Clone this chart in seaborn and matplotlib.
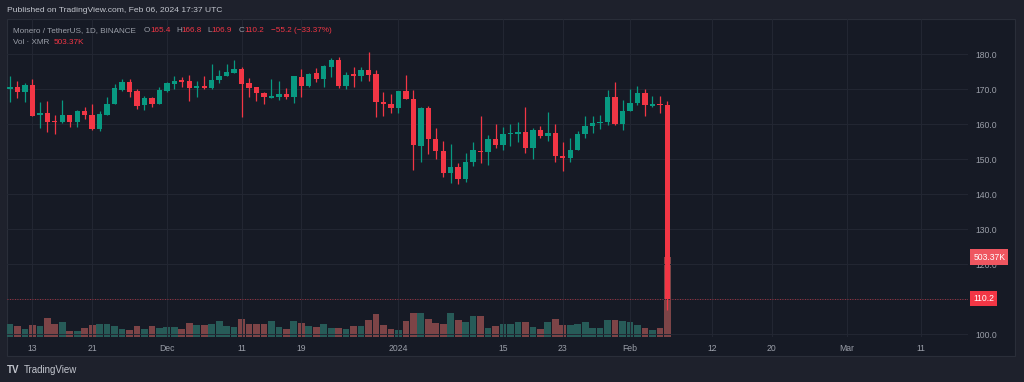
import matplotlib
matplotlib.use("Agg")
import matplotlib.pyplot as plt
import matplotlib.dates as mdates
import matplotlib.transforms as mtransforms
from matplotlib.patches import Rectangle
import seaborn as sns
import pandas as pd
import numpy as np

# daily XMR/USDT candles, 2023-11-10 .. 2024-02-06
dates = pd.date_range("2023-11-10", "2024-02-06", freq="D")
opens = [170.0, 170.7, 169.2, 171.1, 162.6, 163.2, 161.0, 160.7, 162.8, 160.6,
         163.9, 162.8, 158.7, 162.8, 165.8, 169.9, 172.0, 169.4, 165.4, 167.5,
         165.8, 169.6, 171.4, 172.7, 172.4, 170.3, 170.9, 170.5, 172.6, 173.8,
         174.7, 175.8, 171.8, 170.8, 169.0, 167.6, 167.9, 168.6, 167.9, 173.6,
         171.0, 174.7, 173.0, 176.5, 178.4, 171.0, 174.3, 173.9, 175.4, 174.3,
         166.4, 165.9, 164.8, 169.4, 167.3, 153.9, 164.7, 155.7, 152.5, 146.0,
         147.7, 144.3, 149.2, 152.5, 152.0, 155.8, 154.2, 157.1, 157.2, 157.7,
         153.2, 158.3, 156.6, 157.6, 150.8, 150.5, 152.7, 157.3, 159.5, 160.3,
         160.6, 167.9, 160.2, 163.7, 166.2, 169.0, 165.3, 165.6, 165.4]
highs = [173.7, 172.5, 171.7, 172.9, 166.5, 166.6, 162.8, 167.0, 162.8, 164.2,
         165.0, 165.8, 163.9, 167.8, 171.5, 172.9, 172.9, 170.1, 168.1, 167.7,
         170.6, 172.0, 173.9, 173.4, 174.2, 172.5, 173.9, 177.1, 175.6, 177.2,
         178.5, 176.5, 173.2, 170.8, 169.3, 172.9, 172.5, 170.5, 173.7, 175.9,
         174.7, 176.2, 177.0, 178.9, 179.1, 175.0, 176.5, 176.4, 180.7, 175.6,
         169.1, 168.6, 169.4, 174.2, 169.9, 164.9, 165.1, 158.8, 155.2, 154.3,
         148.8, 151.9, 154.8, 162.3, 156.9, 160.0, 159.1, 160.2, 160.8, 164.9,
         159.0, 159.4, 163.4, 160.1, 155.0, 156.1, 158.2, 162.5, 162.5, 162.7,
         169.9, 172.2, 167.0, 170.0, 171.0, 170.0, 168.0, 168.2, 166.8]
lows = [166.5, 167.6, 166.5, 162.3, 159.0, 157.8, 157.1, 160.5, 159.1, 159.3,
        161.6, 158.4, 158.1, 162.8, 165.8, 169.4, 167.7, 164.4, 164.0, 164.9,
        165.8, 169.2, 170.1, 170.6, 166.6, 167.7, 170.0, 170.0, 171.7, 173.7,
        174.7, 162.1, 167.7, 166.6, 165.9, 167.5, 167.0, 167.1, 166.0, 167.7,
        170.6, 172.2, 170.7, 173.6, 170.3, 170.1, 170.8, 172.3, 172.3, 162.1,
        162.3, 163.1, 163.1, 167.2, 147.0, 149.2, 151.5, 150.0, 144.9, 143.3,
        142.9, 143.6, 148.2, 149.0, 148.3, 153.1, 152.7, 153.7, 154.9, 151.9,
        150.2, 156.1, 155.2, 149.3, 146.6, 149.2, 152.7, 156.0, 157.6, 158.7,
        159.8, 159.8, 158.5, 163.7, 165.4, 162.4, 165.0, 163.3, 106.9]
closes = [170.7, 169.2, 171.1, 162.4, 163.2, 160.8, 160.6, 162.8, 160.6, 163.9,
          162.8, 158.7, 163.0, 165.7, 170.3, 172.0, 169.2, 165.3, 167.6, 165.8,
          169.9, 171.7, 172.5, 172.2, 170.3, 170.9, 170.5, 172.8, 173.8, 175.0,
          175.8, 171.5, 170.5, 168.9, 167.7, 168.2, 168.8, 167.8, 173.7, 171.0,
          174.5, 173.0, 176.7, 178.4, 171.0, 174.2, 173.9, 175.4, 174.2, 166.3,
          165.7, 164.8, 169.4, 167.2, 154.1, 164.7, 155.7, 152.5, 146.0, 147.9,
          144.3, 149.2, 152.7, 152.0, 155.8, 154.1, 157.1, 157.5, 157.7, 153.2,
          158.3, 156.6, 157.6, 150.8, 150.5, 152.7, 157.3, 159.5, 160.5, 160.7,
          167.9, 160.2, 163.7, 166.2, 169.0, 165.4, 165.8, 165.4, 110.2]
volumes_k = [84, 69, 50, 77, 67, 120, 80, 92, 36, 40,
             58, 77, 84, 84, 69, 50, 44, 69, 50, 67,
             58, 63, 63, 48, 88, 77, 77, 84, 101, 71,
             65, 115, 84, 84, 80, 101, 63, 52, 101, 90,
             71, 63, 84, 55, 55, 52, 67, 71, 105, 143,
             74, 52, 42, 99, 153, 153, 111, 90, 82, 153,
             109, 92, 135, 130, 58, 67, 82, 82, 96, 96,
             63, 52, 96, 111, 74, 74, 82, 92, 58, 58,
             105, 105, 101, 96, 77, 57, 44, 58, 503.37]

tick_dates = ["2023-11-13", "2023-11-21", "2023-12-01", "2023-12-11", "2023-12-19",
              "2024-01-01", "2024-01-15", "2024-01-23", "2024-02-01", "2024-02-12",
              "2024-02-20", "2024-03-01", "2024-03-11"]
tick_labels = ["13", "21", "Dec", "11", "19", "2024", "15", "23", "Feb", "12",
               "20", "Mar", "11"]
price_ticks = [100, 110, 120, 130, 140, 150, 160, 170, 180]

UP = "#089981"
DOWN = "#f23645"
VOL_UP = "#1e645f"
VOL_DOWN = "#873a3e"
OUTER_BG = "#1e212c"
CHART_BG = "#161a25"
GRID = "#232733"
TEXT = "#c3c6ce"
AXIS_TEXT = "#9a9ea8"

sns.set_style("dark")
plt.rcParams["font.family"] = ["Liberation Sans", "DejaVu Sans"]

df = pd.DataFrame({"date": dates, "open": opens, "high": highs, "low": lows,
                   "close": closes, "volume": volumes_k})
df["x"] = mdates.date2num(df["date"])
df["dir"] = np.where(df["close"] >= df["open"], "up", "down")
colors = [UP if d == "up" else DOWN for d in df["dir"]]

W, H = 1024, 382
fig = plt.figure(figsize=(W / 100, H / 100), dpi=100, facecolor=OUTER_BG)

# chart panel behind the plot and axis strips
fig.patches.append(Rectangle((7 / W, 1 - 356 / H), 1008 / W, 337 / H,
                             transform=fig.transFigure, facecolor=CHART_BG,
                             edgecolor="#2a2e39", lw=0.8, zorder=-5))

ax = fig.add_axes([7 / W, 1 - 337 / H, 961 / W, 318 / H])
axv = ax.twinx()

# volume pane (overlay at the bottom)
sns.barplot(data=df, x="x", y="volume", hue="dir", palette={"up": VOL_UP, "down": VOL_DOWN},
            native_scale=True, dodge=False, errorbar=None, width=0.9, legend=False,
            linewidth=0, ax=axv)
axv.set_ylim(0, 503.37 * 318 / 80)
axv.set_yticks([])
axv.set_ylabel("")
axv.set_xlabel("")
for s in axv.spines.values():
    s.set_visible(False)

ax.set_zorder(axv.get_zorder() + 1)
ax.patch.set_visible(False)
axv.patch.set_visible(False)

# candles
ax.vlines(df["x"], df["low"], df["high"], color=colors, lw=0.9, zorder=3)
body_h = np.maximum((df["close"] - df["open"]).abs(), 0.3)
body_b = np.minimum(df["open"], df["close"])
ax.bar(df["x"], body_h, bottom=body_b, width=0.72, color=colors, linewidth=0, zorder=4)

x0 = df["x"].iloc[0]
ax.set_xlim(x0 - 0.4, x0 + 128.25)
ax.set_ylim(99.2, 190.1)

ax.set_xticks(mdates.date2num(pd.to_datetime(tick_dates)))
ax.set_xticklabels(tick_labels)
ax.set_yticks(price_ticks)
ax.set_yticklabels([f"{p:.1f}" for p in price_ticks])
ax.yaxis.tick_right()
ax.tick_params(axis="x", length=0, pad=5, labelsize=6.2, colors=AXIS_TEXT)
ax.tick_params(axis="y", length=0, pad=5, labelsize=6.2, colors=AXIS_TEXT)
ax.grid(True, color=GRID, lw=0.7)
ax.set_axisbelow(True)
for s in ax.spines.values():
    s.set_visible(False)

# last price line and labels
last = df["close"].iloc[-1]
ax.axhline(last, color=DOWN, lw=0.6, ls=(0, (1, 2)), alpha=0.8, zorder=2)
trans_p = mtransforms.blended_transform_factory(ax.transAxes, ax.transData)
ax.text(1.0055, last, f"{last:.1f}", transform=trans_p, ha="left", va="center",
        fontsize=6.2, color="white", clip_on=False, zorder=10,
        bbox=dict(boxstyle="square,pad=0.35", fc=DOWN, ec="none"))
trans_v = mtransforms.blended_transform_factory(ax.transAxes, axv.transData)
last_vol = df["volume"].iloc[-1]
ax.text(1.0055, last_vol, f"{last_vol:.2f}K", transform=trans_v, ha="left", va="center",
        fontsize=6.2, color="white", clip_on=False, zorder=10,
        bbox=dict(boxstyle="square,pad=0.35", fc="#ef5660", ec="none"))

# header texts
def px(x):
    return x / W


def py(y):
    return 1 - y / H


fig.text(px(7), py(11), "Published on TradingView.com, Feb 06, 2024 17:37 UTC",
         fontsize=6.1, color=TEXT, va="center")
LEG = 5.85
pieces = [(13.3, "Monero / TetherUS, 1D, BINANCE", AXIS_TEXT),
          (144, "O", AXIS_TEXT), (150.7, f"{opens[-1]:.1f}", DOWN),
          (176.7, "H", AXIS_TEXT), (181.5, f"{highs[-1]:.1f}", DOWN),
          (207.5, "L", AXIS_TEXT), (211.9, f"{lows[-1]:.1f}", DOWN),
          (238.5, "C", AXIS_TEXT), (244.3, f"{closes[-1]:.1f}", DOWN),
          (271, "\u221255.2 (\u221233.37%)", DOWN)]
for x, s, c in pieces:
    fig.text(px(x), py(30.5), s, fontsize=LEG, color=c, va="center")
fig.text(px(13.3), py(42.7), "Vol \u00b7 XMR", fontsize=LEG, color=AXIS_TEXT, va="center")
fig.text(px(54), py(42.7), "503.37K", fontsize=LEG, color=DOWN, va="center")

fig.text(px(7), py(370), "TV", fontsize=7, color=TEXT, va="center", fontweight="bold")
fig.text(px(23.5), py(370), "TradingView", fontsize=7, color=TEXT, va="center")

fig.savefig("out.png", dpi=100, facecolor=OUTER_BG)
